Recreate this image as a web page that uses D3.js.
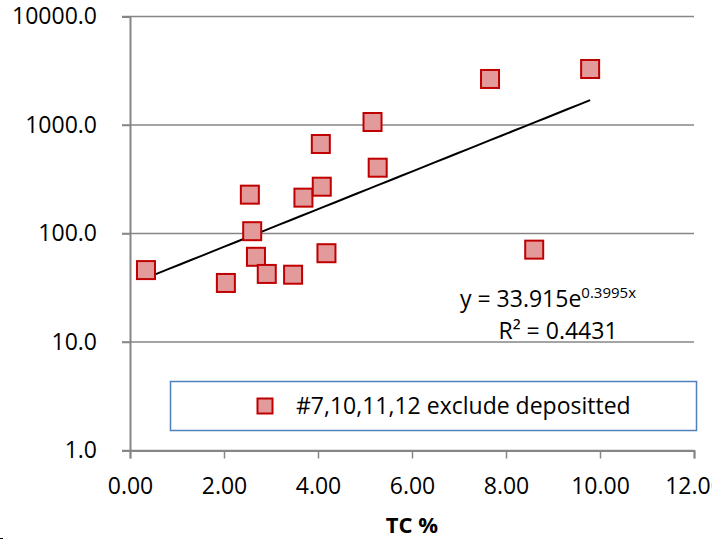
<!DOCTYPE html>
<html>
<head>
<meta charset="utf-8">
<script src="https://cdn.jsdelivr.net/npm/d3@7"></script>
<style>
  body { margin: 0; background: #fff; }
  svg { font-family: "Open Sans", sans-serif; }
</style>
</head>
<body>
<div id="chart"></div>
<script>
// TC % vs value (log scale)
const tcValues = [0.34, 2.04, 2.55, 2.60, 2.68, 2.91, 3.47, 3.69, 4.06, 4.08, 4.18, 5.16, 5.27, 7.66, 8.60, 9.79];
const yValues  = [46, 35, 228, 105, 61, 42.4, 41.7, 214, 668, 270, 65.8, 1066, 404, 2656, 71, 3283];

const xTicks = [0, 2, 4, 6, 8, 10, 12];
const yTicks = [1, 10, 100, 1000, 10000];

// exponential trendline y = a * e^(b x)
const trendA = 33.915;
const trendB = 0.3995;
const seriesName = "#7,10,11,12 exclude depositted";

const W = 712, H = 540;
const margin = { top: 16.5, right: 18, bottom: 89.5, left: 130 };
const width = W - margin.left - margin.right;
const height = H - margin.top - margin.bottom;

const svg = d3.select("#chart").append("svg")
    .attr("width", W)
    .attr("height", H);

const g = svg.append("g")
    .attr("transform", `translate(${margin.left},${margin.top})`);

const x = d3.scaleLinear().domain([0, 12]).range([0, width]);
const y = d3.scaleLog().domain([1, 10000]).range([height, 0]);

const gridColor = "#868686";

// horizontal gridlines
g.selectAll(".grid")
    .data(yTicks)
    .enter().append("line")
    .attr("x1", -8)
    .attr("x2", width)
    .attr("y1", d => y(d))
    .attr("y2", d => y(d))
    .attr("stroke", gridColor)
    .attr("stroke-width", 1.5);

// y axis
const yAxis = g.append("g")
    .call(d3.axisLeft(y).tickValues(yTicks).tickFormat(d3.format(".1f")).tickSize(8).tickPadding(25));
// x axis
const xAxis = g.append("g")
    .attr("transform", `translate(0,${height})`)
    .call(d3.axisBottom(x).tickValues(xTicks).tickFormat(d3.format(".2f")).tickSize(8).tickPadding(19));

[yAxis, xAxis].forEach(ax => {
    ax.select(".domain").attr("stroke", gridColor).attr("stroke-width", 2);
    ax.selectAll(".tick line").attr("stroke", gridColor).attr("stroke-width", 1.5);
    ax.selectAll(".tick text")
        .attr("fill", "#000")
        .style("font-size", "23px")
        .style("font-family", "'Open Sans', sans-serif");
});

// x axis title
svg.append("text")
    .attr("x", 412)
    .attr("y", 533)
    .attr("text-anchor", "middle")
    .style("font-size", "22px")
    .style("font-weight", "bold")
    .text("TC %");

// trendline
const xMin = d3.min(tcValues), xMax = d3.max(tcValues);
const trend = d3.range(0, 41).map(i => {
    const tx = xMin + (xMax - xMin) * i / 40;
    return [tx, trendA * Math.exp(trendB * tx)];
});
g.append("path")
    .datum(trend)
    .attr("fill", "none")
    .attr("stroke", "#000")
    .attr("stroke-width", 2)
    .attr("d", d3.line().x(d => x(d[0])).y(d => y(d[1])));

// markers
const ms = 18;
g.selectAll(".pt")
    .data(tcValues.map((v, i) => [v, yValues[i]]))
    .enter().append("rect")
    .attr("x", d => x(d[0]) - ms / 2)
    .attr("y", d => y(d[1]) - ms / 2)
    .attr("width", ms)
    .attr("height", ms)
    .attr("fill", "#e39a9b")
    .attr("stroke", "#c00000")
    .attr("stroke-width", 2);

// equation label
const eq = svg.append("text")
    .attr("x", 460)
    .attr("y", 307)
    .style("font-size", "23px");
eq.append("tspan").text("y = 33.915e");
eq.append("tspan").attr("dy", -9).style("font-size", "15px").text("0.3995x");
svg.append("text")
    .attr("x", 558)
    .attr("y", 339)
    .attr("text-anchor", "middle")
    .style("font-size", "23px")
    .text("R² = 0.4431");

// legend
svg.append("rect")
    .attr("x", 170.5)
    .attr("y", 381.5)
    .attr("width", 526)
    .attr("height", 49)
    .attr("fill", "#fff")
    .attr("stroke", "#4f81bd")
    .attr("stroke-width", 1.5);
svg.append("rect")
    .attr("x", 265 - 7.5)
    .attr("y", 406 - 7.5)
    .attr("width", 15)
    .attr("height", 15)
    .attr("fill", "#e39a9b")
    .attr("stroke", "#c00000")
    .attr("stroke-width", 2);
svg.append("text")
    .attr("x", 296)
    .attr("y", 414)
    .style("font-size", "23px")
    .text(seriesName);

// small dash at the lower-left corner
svg.append("line")
    .attr("x1", 0).attr("x2", 3)
    .attr("y1", 538.5).attr("y2", 538.5)
    .attr("stroke", "#000")
    .attr("stroke-width", 1);
</script>
</body>
</html>
